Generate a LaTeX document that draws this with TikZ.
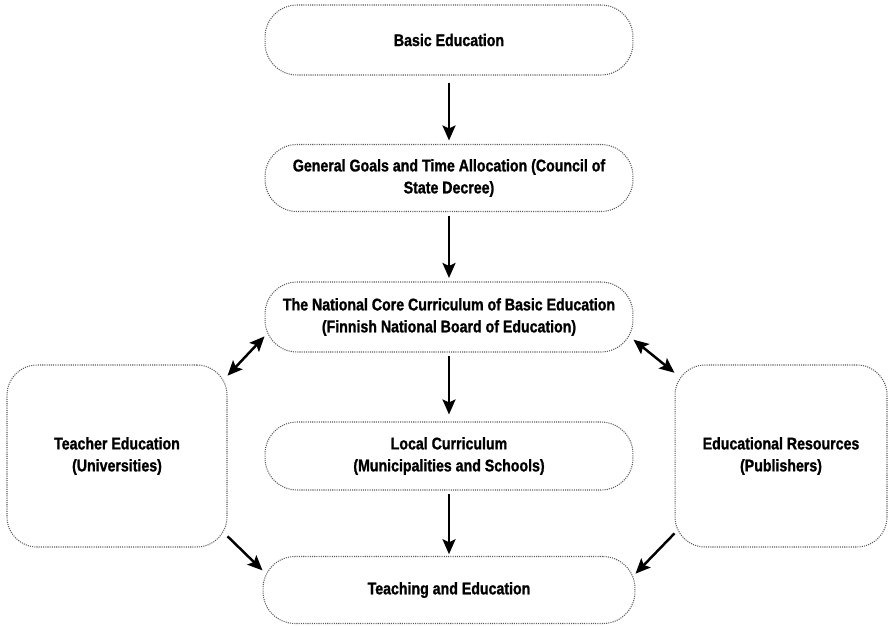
\documentclass[tikz,border=0pt]{standalone}
\usepackage{fontspec}
\setmainfont{Liberation Sans}[FakeStretch=0.84, BoldFeatures={FakeBold=1.2}]
\usetikzlibrary{arrows.meta}

\begin{document}
\begin{tikzpicture}[x=0.02cm,y=-0.02cm]
\tikzstyle{every node}+=[inner sep=0pt]
\tikzstyle{level}=[draw=black!65, line width=0.6pt, dash pattern=on 0.6pt off 0.65pt, rounded corners=0.64cm, align=center, font=\fontsize{9.6}{12.5}\selectfont\bfseries]
\tikzstyle{flow}=[line width=1.4pt, -{Stealth[length=3mm,width=2.6mm,inset=0.6mm]}]
\tikzstyle{both}=[line width=1.4pt, {Stealth[length=3mm,width=2.6mm,inset=0.6mm]}-{Stealth[length=3mm,width=2.6mm,inset=0.6mm]}]
\useasboundingbox (0,0) rectangle (889,626);
\node [level, minimum width=7.36cm, minimum height=1.4cm] (basic) at (449,40) {Basic Education};
\node [level, minimum width=7.36cm, minimum height=1.34cm] (goals) at (449,178) {General Goals and Time Allocation (Council of\\State Decree)};
\node [level, minimum width=7.36cm, minimum height=1.4cm] (core) at (449,317) {The National Core Curriculum of Basic Education\\(Finnish National Board of Education)};
\node [level, minimum width=7.36cm, minimum height=1.36cm] (local) at (449,456) {Local Curriculum\\(Municipalities and Schools)};
\node [level, minimum width=7.44cm, minimum height=1.34cm] (teaching) at (449,590) {Teaching and Education};
\node [level, rounded corners=0.6cm, minimum width=4.4cm, minimum height=3.64cm] (teacher) at (117,456) {Teacher Education\\(Universities)};
\node [level, rounded corners=0.6cm, minimum width=4.24cm, minimum height=3.64cm] (resources) at (781,456) {Educational Resources\\(Publishers)};
\draw [flow, shorten <=4pt, shorten >=2pt] (basic) -- (goals);
\draw [flow, shorten <=2pt, shorten >=2pt] (goals) -- (core);
\draw [flow, shorten <=2pt, shorten >=4pt] (core) -- (local);
\draw [flow, shorten <=2pt, shorten >=1pt] (local) -- (teaching);
\draw [both] (teacher.36) -- (core.186);
\draw [both] (core.-7) -- (resources.142);
\draw [flow] (teacher.-36) -- (teaching.174);
\draw [flow] (resources.216) -- (teaching.5);
\end{tikzpicture}
\end{document}
